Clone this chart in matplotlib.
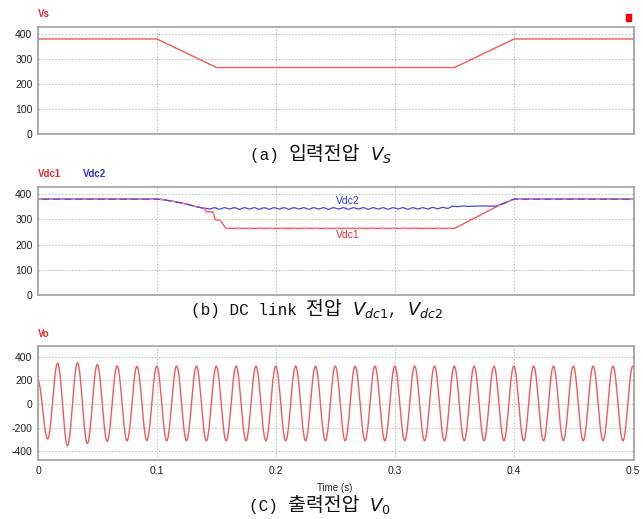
import numpy as np
import matplotlib
matplotlib.use("Agg")
import matplotlib.pyplot as plt

# ---------------- data ----------------
# (a) input voltage Vs : breakpoints (time s, volts)
vs_t = [0.0, 0.10, 0.15, 0.35, 0.40, 0.5008]
vs_v = [380, 380, 266, 266, 380, 380]

# (b) DC link voltages
vdc2_t_head = [0.0, 0.100, 0.105, 0.115, 0.125, 0.133, 0.139]
vdc2_v_head = [380, 380, 378, 370, 360, 350, 344]
vdc2_ripple_t0 = 0.140
vdc2_ripple_dt = 1 / 240
vdc2_ripple_v = [344, 341, 346, 340, 346, 341, 346, 340, 346, 341, 346, 340,
                 346, 340, 346, 341, 346, 340, 346, 341, 346, 340, 346, 341,
                 346, 340, 346, 341, 346, 340, 346, 341, 346, 340, 346, 341,
                 346, 340, 346, 341, 346, 340, 346, 341, 346, 341, 347, 342,
                 347, 343, 352, 350, 353, 351]
vdc2_t_tail = [0.372, 0.385, 0.400, 0.5008]
vdc2_v_tail = [353, 352, 380, 380]

vdc1_t = [0.0, 0.100, 0.105, 0.115, 0.125, 0.133, 0.139, 0.140, 0.141, 0.147,
          0.149, 0.153, 0.158, 0.350, 0.386, 0.400, 0.5008]
vdc1_v = [380, 380, 378, 370, 360, 350, 344, 343, 330, 329,
          298, 296, 264, 264, 352, 380, 380]

# (c) output voltage Vo : successive half-cycle extrema (60 Hz)
vo_t0 = -0.0002
vo_half_period = 1 / 120
vo_extrema = [200, -297, 345, -353, 348, -336, 333, -317, 322, -312,
              318, -310, 320, -312, 320, -312, 320, -312, 320, -312,
              320, -312, 320, -312, 320, -312, 320, -312, 320, -312,
              320, -312, 320, -312, 320, -312, 320, -312, 320, -312,
              320, -312, 320, -312, 320, -312, 320, -312, 320, -312,
              320, -312, 320, -312, 320, -312, 320, -312, 320, -312,
              320]

x_ticks = [0, 0.1, 0.2, 0.3, 0.4, 0.5]
x_ticklabels = ["0", "0.1", "0.2", "0.3", "0.4", "0.5"]
y_ticks_ab = [0, 100, 200, 300, 400]
y_ticks_c = [-400, -200, 0, 200, 400]


# ---------------- build curves ----------------
def smooth_through(tk, vk, n=30):
    """Half-cosine shaped curve passing through successive extrema."""
    tk = np.asarray(tk, float)
    vk = np.asarray(vk, float)
    ts, vs = [], []
    s = np.linspace(0, 1, n, endpoint=False)
    for k in range(len(tk) - 1):
        ts.append(tk[k] + s * (tk[k + 1] - tk[k]))
        vs.append(vk[k] + (vk[k + 1] - vk[k]) * (1 - np.cos(np.pi * s)) / 2)
    return np.concatenate(ts + [[tk[-1]]]), np.concatenate(vs + [[vk[-1]]])


rip_t = vdc2_ripple_t0 + vdc2_ripple_dt * np.arange(len(vdc2_ripple_v))
rip_ts, rip_vs = smooth_through(rip_t, vdc2_ripple_v, 12)
vdc2_t = np.concatenate([vdc2_t_head, rip_ts, vdc2_t_tail])
vdc2_v = np.concatenate([vdc2_v_head, rip_vs, vdc2_v_tail])

ext_t = vo_t0 + vo_half_period * np.arange(len(vo_extrema))
vo_t, vo_v = smooth_through(ext_t, vo_extrema, 40)

# ---------------- figure ----------------
W, H = 643, 519
fig = plt.figure(figsize=(W / 100, H / 100), dpi=100)
fig.patch.set_facecolor("white")
plt.rcParams["mathtext.fontset"] = "dejavusans"

RED = "#f05a5a"
BLUE = "#4b45e0"
TXT_RED = "#e8282f"
TXT_BLUE = "#3030e0"
SPINE = "#a0a0a0"
GRID = "#c4c4c4"
tick_font = dict(family="Liberation Sans", size=7.5, color="#222222")
MONO = dict(family=["Liberation Mono", "Noto Sans CJK KR"], fontsize=11.5,
            color="#111111")
KR = dict(family=["Noto Sans CJK KR", "DejaVu Sans"], fontsize=14,
          fontweight=300, color="#111111")
MATH = dict(fontsize=13, color="#111111")


def ax_rect(top_px, bottom_px, left_px=38, right_px=634):
    return [left_px / W, 1 - bottom_px / H, (right_px - left_px) / W,
            (bottom_px - top_px) / H]


def style(ax, ylim, yticks, show_x):
    ax.set_xlim(0, 0.5008)
    ax.set_ylim(*ylim)
    ax.set_xticks(x_ticks)
    ax.set_yticks(yticks)
    ax.set_yticklabels([str(v) for v in yticks], **tick_font)
    if show_x:
        ax.set_xticklabels(x_ticklabels, **tick_font)
    else:
        ax.set_xticklabels([])
    ax.tick_params(length=0, pad=4)
    ax.grid(True, color=GRID, linestyle=(0, (1.5, 1.5)), linewidth=0.8)
    ax.set_axisbelow(True)
    for sp in ax.spines.values():
        sp.set_color(SPINE)
        sp.set_linewidth(1.2)


captions = []  # (center_px_x, baseline_px_y, [(text, kwargs), ...])

# (a)
ax1 = fig.add_axes(ax_rect(27, 134))
ax1.plot(vs_t, vs_v, color=RED, lw=1.0)
style(ax1, (0, 428), y_ticks_ab, False)
fig.text(38 / W, 1 - 14 / H, "Vs", color=TXT_RED, fontsize=7, fontweight="bold",
         family="Liberation Sans", va="center", ha="left")
fig.patches.append(plt.Rectangle((626 / W, 1 - 21 / H), 5 / W, 7 / H,
                                 transform=fig.transFigure, color="#ff0000"))
captions.append((321, 160, [("(a) ", MONO), ("입력전압", KR), (" ", MONO),
                            (r"$V_S$", MATH)]))

# (b)
ax2 = fig.add_axes(ax_rect(187, 295))
ax2.plot(vdc1_t, vdc1_v, color=RED, lw=1.0)
ax2.plot(vdc2_t, vdc2_v, color=BLUE, lw=0.9)
ax2.plot(vdc1_t, vdc1_v, color="#f07fa8", lw=1.0, linestyle=(0, (3, 5)))
style(ax2, (0, 428), y_ticks_ab, False)
fig.text(38 / W, 1 - 174 / H, "Vdc1", color=TXT_RED, fontsize=7, fontweight="bold",
         family="Liberation Sans", va="center", ha="left")
fig.text(83 / W, 1 - 174 / H, "Vdc2", color=TXT_BLUE, fontsize=7, fontweight="bold",
         family="Liberation Sans", va="center", ha="left")
fig.text(348 / W, 1 - 201 / H, "Vdc2", color=TXT_BLUE, fontsize=7.5,
         family="Liberation Sans", va="center", ha="center")
fig.text(348 / W, 1 - 235 / H, "Vdc1", color=TXT_RED, fontsize=7.5,
         family="Liberation Sans", va="center", ha="center")
captions.append((317, 315, [("(b) DC link ", MONO), ("전압", KR), (" ", MONO),
                            (r"$V_{dc\mathrm{1}}$", MATH), (", ", MONO),
                            (r"$V_{dc\mathrm{2}}$", MATH)]))

# (c)
ax3 = fig.add_axes(ax_rect(346, 460))
ax3.plot(vo_t, vo_v, color=RED, lw=1.0)
style(ax3, (-475, 490), y_ticks_c, True)
fig.text(38 / W, 1 - 334 / H, "Vo", color=TXT_RED, fontsize=7, fontweight="bold",
         family="Liberation Sans", va="center", ha="left")
fig.text(335 / W, 1 - 488 / H, "Time (s)", color="#222222", fontsize=7,
         family="Liberation Sans", va="center", ha="center")
captions.append((320, 511, [("(C) ", MONO), ("출력전압", KR), (" ", MONO),
                            (r"$V_0$", MATH)]))

# place caption pieces side by side, centred as a group (advance by text width)
fig.canvas.draw()
renderer = fig.canvas.get_renderer()
for cx, by, parts in captions:
    objs = []
    for txt, kw in parts:
        t = fig.text(0, 1 - by / H, txt, ha="left", va="baseline", **kw)
        objs.append(t)
    widths = [o.get_window_extent(renderer).width for o in objs]
    x = cx - sum(widths) / 2
    for o, w in zip(objs, widths):
        o.set_x(x / W)
        x += w

fig.savefig("out.png", dpi=100, facecolor="white")
